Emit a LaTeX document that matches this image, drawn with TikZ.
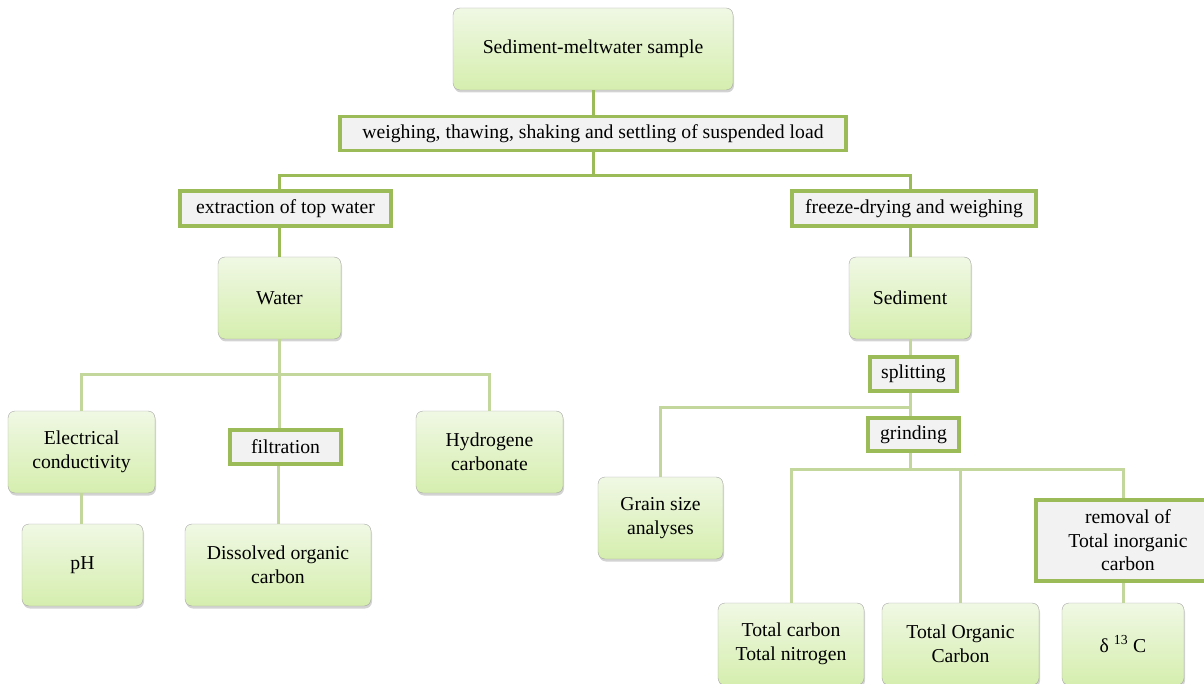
\documentclass[tikz,border=0pt]{standalone}
\usepackage{fontspec}
\setmainfont{Liberation Serif}
\usetikzlibrary{shadows}

\definecolor{linkdark}{HTML}{9BBB59}
\definecolor{linklight}{HTML}{C3D69B}
\definecolor{boxtop}{HTML}{F0F8E4}
\definecolor{boxbottom}{HTML}{D5EEAE}
\definecolor{stepfill}{HTML}{F2F2F2}

\tikzset{
  result/.style={draw=gray!70, rounded corners=7pt, top color=boxtop, bottom color=boxbottom,
    drop shadow={shadow xshift=1pt, shadow yshift=-2.5pt, opacity=0.35},
    align=center, inner sep=0pt, font=\fontsize{19.7}{23.5}\selectfont},
  process/.style={draw=linkdark, line width=3.5pt, fill=stepfill,
    align=center, inner sep=0pt, font=\fontsize{19.7}{23.5}\selectfont},
  mainlink/.style={linkdark, line width=3pt},
  sublink/.style={linklight, line width=3pt},
}

\begin{document}
\begin{tikzpicture}[x=1pt,y=-1pt]
  \useasboundingbox (0,0) rectangle (1204,684);

  % results (rounded green boxes)
  \node[result, minimum width=280, minimum height=82] (sample) at (593,49) {Sediment-meltwater sample};
  \node[result, minimum width=123, minimum height=82] (water) at (279.5,298) {Water};
  \node[result, minimum width=122, minimum height=82] (sediment) at (910,298) {Sediment};
  \node[result, minimum width=147, minimum height=82] (elec) at (81.5,452) {Electrical\\conductivity};
  \node[result, minimum width=147, minimum height=82] (hydro) at (489.5,452) {Hydrogene\\carbonate};
  \node[result, minimum width=121, minimum height=82] (ph) at (82.5,565) {pH};
  \node[result, minimum width=186, minimum height=82] (dissolved) at (278,565) {Dissolved organic\\carbon};
  \node[result, minimum width=125, minimum height=82] (grain) at (660.5,518) {Grain size\\analyses};
  \node[result, minimum width=146, minimum height=82] (tc) at (791,644) {Total carbon\\Total nitrogen};
  \node[result, minimum width=157, minimum height=82] (toc) at (960.5,644) {Total Organic\\Carbon};
  \node[result, minimum width=122, minimum height=82] (delta) at (1123,644) {δ \textsuperscript{13} C};

  % processing steps (grey boxes)
  \node[process, minimum width=506, minimum height=34] (weigh) at (593,133.5) {weighing, thawing, shaking and settling of suspended load};
  \node[process, minimum width=211, minimum height=35] (extract) at (285.5,208.5) {extraction of top water};
  \node[process, minimum width=244, minimum height=35] (freeze) at (914,208.5) {freeze-drying and weighing};
  \node[process, minimum width=111, minimum height=34] (filt) at (285.5,447) {filtration};
  \node[process, minimum width=87, minimum height=34] (split) at (913.5,374) {splitting};
  \node[process, minimum width=91, minimum height=33] (grind) at (913.5,434.5) {grinding};
  \node[process, minimum width=184, minimum height=81] (removal) at (1128,540.5) {removal of\\Total inorganic\\carbon};

  % connectors
  \draw[mainlink] (sample) -- (weigh);
  \draw[mainlink] (weigh.south) -- ++(0,23) -| (water.north |- extract.north);
  \draw[mainlink] (weigh.south) -- ++(0,23) -| (sediment.north |- freeze.north);
  \draw[mainlink] (water.north |- extract.south) -- (water.north);
  \draw[mainlink] (sediment.north |- freeze.south) -- (sediment.north);

  \draw[sublink] (water.south) -- ++(0,35) -| (elec.north);
  \draw[sublink] (water.south) -- ++(0,35) -| (hydro.north);
  \draw[sublink] (water.south) -- (water.south |- filt.north);
  \draw[sublink] (dissolved.north |- filt.south) -- (dissolved.north);
  \draw[sublink] (elec.south) -- (elec.south |- ph.north);

  \draw[sublink] (sediment.south) -- (sediment.south |- split.north);
  \draw[sublink] (sediment.south |- split.south) -- ++(0,15) -| (grain.north);
  \draw[sublink] (sediment.south |- split.south) -- (sediment.south |- grind.north);
  \draw[sublink] (sediment.south |- grind.south) -- ++(0,17) -| (tc.north);
  \draw[sublink] (sediment.south |- grind.south) -- ++(0,17) -| (toc.north);
  \draw[sublink] (sediment.south |- grind.south) -- ++(0,17) -| (delta.north |- removal.north);
  \draw[sublink] (delta.north |- removal.south) -- (delta.north);
\end{tikzpicture}
\end{document}
